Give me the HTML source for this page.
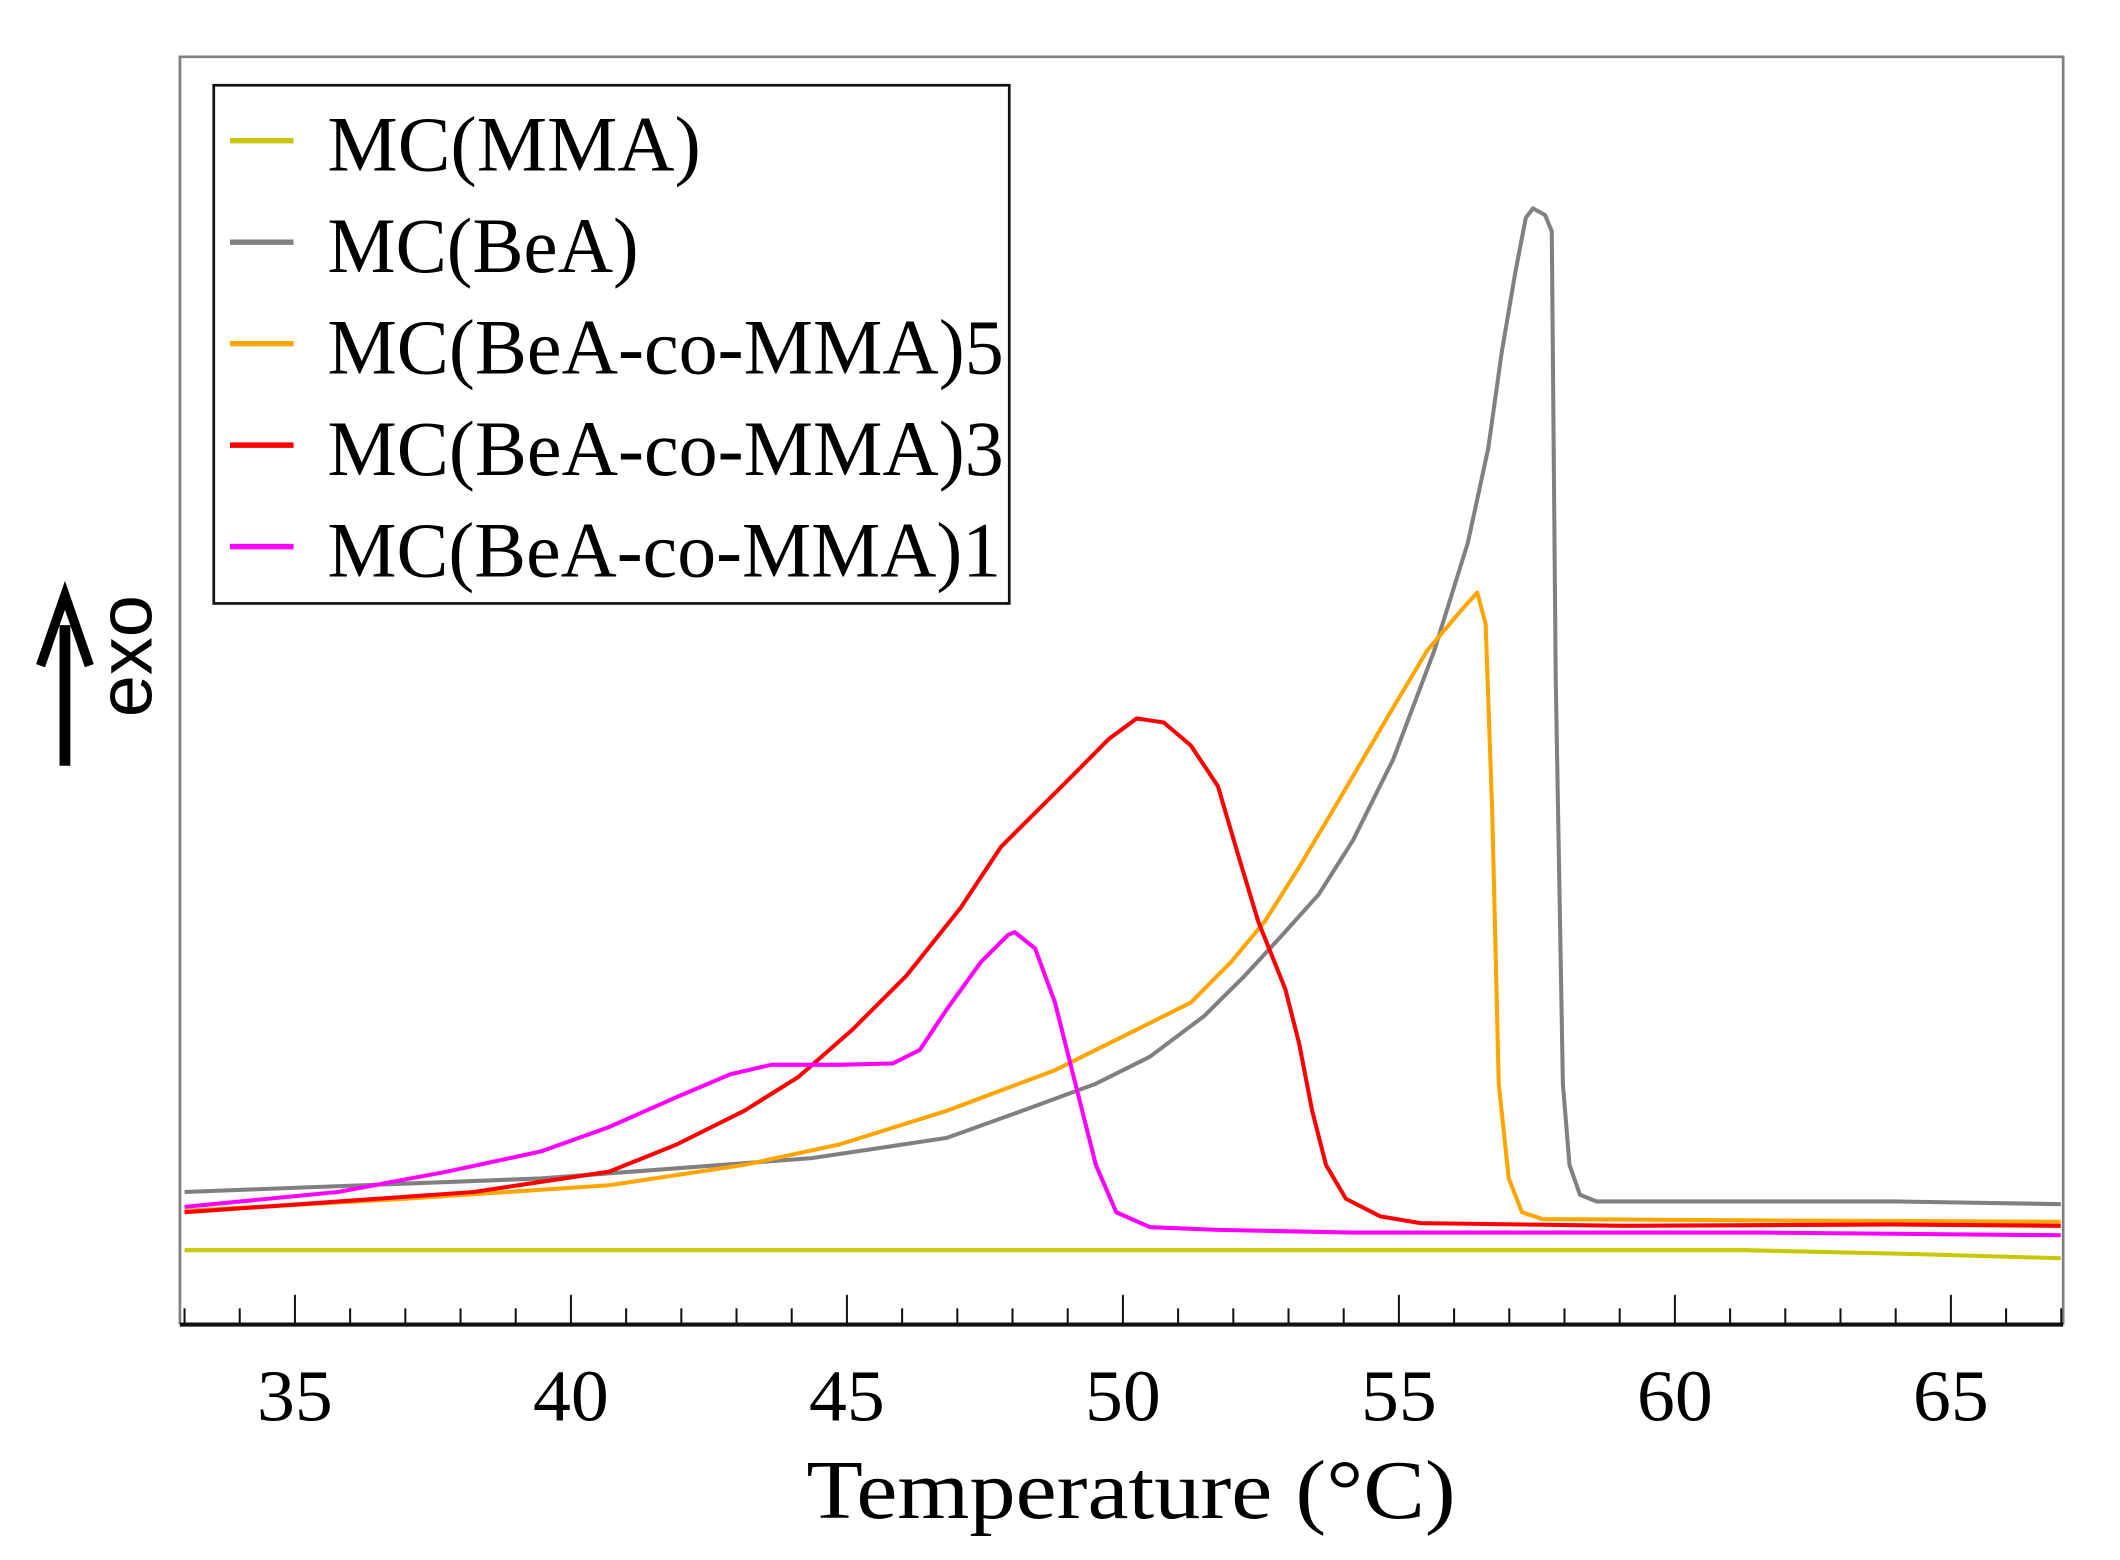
<!DOCTYPE html>
<html><head><meta charset="utf-8"><style>html,body{margin:0;padding:0;background:#fff}svg{display:block}</style></head>
<body>
<svg width="2120" height="1560" viewBox="0 0 1567 1153" preserveAspectRatio="none" xmlns="http://www.w3.org/2000/svg">
<g id="plot"></g>
</svg>
<script>
const xTicks=[35,40,45,50,55,60,65];
const seriesNames=["MC(MMA)","MC(BeA)","MC(BeA-co-MMA)5","MC(BeA-co-MMA)3","MC(BeA-co-MMA)1"];
const seriesColors=["#c8c800","#808080","#ffa500","#ff0000","#ff00ff"];
const tMMA=[33.0,61.27,64.46,66.99];
const vMMA=[0.55,0.55,0.52,0.49];
const tBeA=[33.0,39.46,44.36,46.81,48.04,49.51,50.49,51.47,52.21,52.89,53.55,54.17,54.90,55.64,56.25,56.62,56.86,57.11,57.30,57.43,57.65,57.77,57.84,57.97,58.09,58.28,58.58,63.97,66.99];
const vBeA=[0.98,1.08,1.23,1.38,1.56,1.78,1.98,2.28,2.58,2.88,3.18,3.58,4.18,4.98,5.78,6.48,7.18,7.78,8.18,8.25,8.20,8.08,4.78,1.78,1.18,0.96,0.91,0.91,0.89];
const tO=[33.0,37.01,40.69,43.14,44.85,46.81,48.77,50.25,51.23,51.96,52.57,53.19,53.92,54.78,55.51,56.13,56.42,56.57,56.69,56.81,56.99,57.23,57.60,61.52,66.99];
const vO=[0.84,0.93,1.03,1.18,1.33,1.58,1.88,2.18,2.38,2.68,2.98,3.38,3.88,4.48,4.98,5.28,5.41,5.18,3.78,1.78,1.08,0.83,0.78,0.77,0.76];
const tR=[33.0,38.24,40.69,41.91,43.14,44.12,45.10,46.08,47.06,47.79,48.28,49.02,49.75,50.25,50.74,51.23,51.72,52.08,52.45,52.94,53.19,53.43,53.68,54.04,54.66,55.39,59.07,63.97,66.99];
const vR=[0.83,0.98,1.13,1.33,1.58,1.83,2.18,2.58,3.08,3.53,3.73,4.03,4.33,4.48,4.45,4.28,3.98,3.48,2.98,2.48,2.08,1.58,1.18,0.93,0.80,0.75,0.73,0.74,0.73];
const tM=[33.0,35.78,37.75,39.46,40.69,41.91,42.89,43.63,44.85,45.83,46.32,46.81,47.43,47.92,48.04,48.41,48.77,49.14,49.51,49.88,50.49,51.72,54.17,61.52,66.99];
const vM=[0.87,0.98,1.13,1.28,1.46,1.68,1.85,1.92,1.92,1.93,2.03,2.33,2.68,2.88,2.90,2.78,2.38,1.78,1.18,0.83,0.72,0.70,0.68,0.68,0.66];
const allT=[tMMA,tBeA,tO,tR,tM], allV=[vMMA,vBeA,vO,vR,vM];
const L=133,R=1525,T=42,B=979;
const xs=t=>218+(t-35)*40.8;
const ys=v=>B-v*100;
const NS="http://www.w3.org/2000/svg";
const svg=document.querySelector('svg');
function mk(tag,attrs,parent){const e=document.createElementNS(NS,tag);for(const k in attrs)e.setAttribute(k,attrs[k]);(parent||svg).appendChild(e);return e;}
let f=mk('path',{d:`M${L},${B} L${L},${T} L${R},${T} L${R},${B}`,fill:'none',stroke:'#808080','stroke-width':2});


let ax=mk('line',{x1:L,y1:B,x2:R,y2:B,stroke:'#111','stroke-width':3});


for(let t=33;t<=67;t++){
  const major=(t%5===0);
  let tk=mk('line',{x1:xs(t),x2:xs(t),y1:major?957:967,y2:B,stroke:'#111','stroke-width':1.5});
  
  
}
xTicks.forEach(t=>{
  let tx=mk('text',{x:xs(t),y:1050,'text-anchor':'middle','font-family':'Liberation Serif, serif','font-size':54,fill:'#000',textLength:56,lengthAdjust:'spacingAndGlyphs'});
  tx.textContent=t;
  
  
});
let xt=mk('text',{x:836,y:1122,'text-anchor':'middle','font-family':'Liberation Serif, serif','font-size':62,fill:'#000',textLength:480,lengthAdjust:'spacingAndGlyphs'});
xt.textContent='Temperature (°C)';


let ar=mk('line',{x1:48,y1:566,x2:48,y2:462,stroke:'#000','stroke-width':8});


let ah=mk('path',{d:'M30,492 L48,440 L66,492',fill:'none',stroke:'#000','stroke-width':7,'stroke-linejoin':'miter'});


let ex=mk('text',{x:0,y:0,transform:'translate(112,485) rotate(-90)','text-anchor':'middle','font-family':'Liberation Sans, sans-serif','font-size':56,fill:'#000'});
ex.textContent='exo';


allT.forEach((ts,i)=>{
  const d=ts.map((t,j)=>(j?'L':'M')+xs(t).toFixed(1)+','+ys(allV[i][j]).toFixed(1)).join(' ');
  let p=mk('path',{d:d,fill:'none',stroke:seriesColors[i],'stroke-width':3,'stroke-linejoin':'round'});
  
  
});
let lb=mk('rect',{x:158,y:63,width:588,height:383,fill:'#fff',stroke:'#111','stroke-width':2});


seriesNames.forEach((n,i)=>{
  const y=104+i*75;
  let ln=mk('line',{x1:170,x2:217,y1:y,y2:y,stroke:seriesColors[i],'stroke-width':4});
  
  
  const w=[276,230,500,500,498][i];
  let tx=mk('text',{x:242,y:y+22,'font-family':'Liberation Serif, serif','font-size':58,fill:'#000',textLength:w,lengthAdjust:'spacingAndGlyphs'});
  tx.textContent=n;
  
  
});
</script>
</body></html>
